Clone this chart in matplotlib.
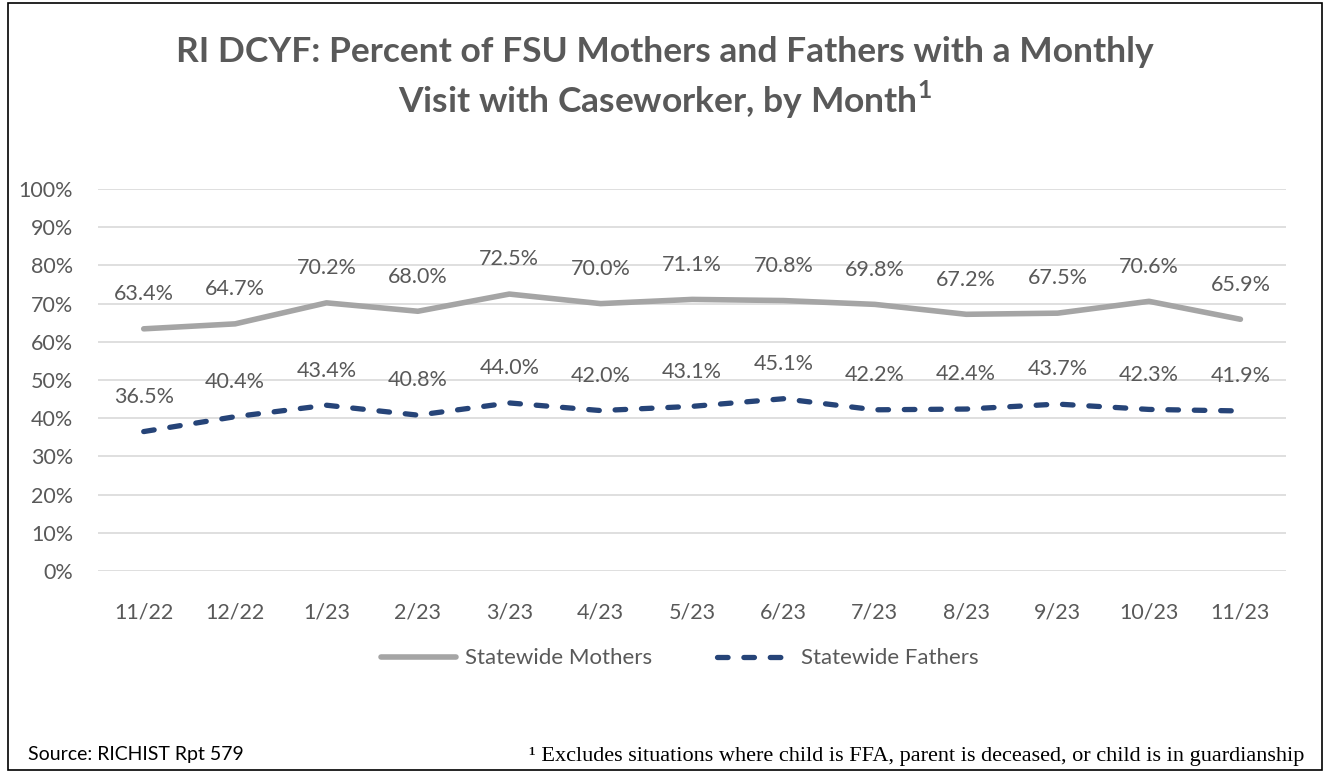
import matplotlib.pyplot as plt
from matplotlib.patches import Rectangle

months = ["11/22", "12/22", "1/23", "2/23", "3/23", "4/23", "5/23",
          "6/23", "7/23", "8/23", "9/23", "10/23", "11/23"]
mothers = [63.4, 64.7, 70.2, 68.0, 72.5, 70.0, 71.1, 70.8, 69.8, 67.2, 67.5, 70.6, 65.9]
fathers = [36.5, 40.4, 43.4, 40.8, 44.0, 42.0, 43.1, 45.1, 42.2, 42.4, 43.7, 42.3, 41.9]
yticks = list(range(0, 101, 10))

txt = "#595959"
gray = "#A5A5A5"
navy = "#264478"
plt.rcParams['font.family'] = ['Lato', 'DejaVu Sans']
plt.rcParams['mathtext.fontset'] = 'custom'
plt.rcParams['mathtext.bf'] = 'Lato:bold'
plt.rcParams['mathtext.rm'] = 'Lato'

fig = plt.figure(figsize=(13.3, 7.82), dpi=100)
ax = fig.add_axes([0.0737, 0.2698, 0.8933, 0.4885])

x = list(range(len(months)))
ax.plot(x, mothers, color=gray, lw=4.0, solid_capstyle='round', label="Statewide Mothers")
ax.plot(x, fathers, color=navy, lw=3.8, ls=(0, (2, 3)), dash_capstyle='round',
        label="Statewide Fathers")

for xi, v in zip(x, mothers):
    ax.annotate(f"{v:.1f}%", (xi, v), xytext=(0, 25), textcoords='offset points',
                ha='center', va='center', fontsize=15.5, color=txt)
for xi, v in zip(x, fathers):
    ax.annotate(f"{v:.1f}%", (xi, v), xytext=(0, 25), textcoords='offset points',
                ha='center', va='center', fontsize=15.5, color=txt)

ax.set_xlim(-0.5, len(months) - 0.5)
ax.set_ylim(0, 100)
ax.set_yticks(yticks)
ax.set_yticklabels([f"{t}%" for t in yticks])
ax.set_xticks(x)
ax.set_xticklabels(months)
ax.tick_params(axis='both', length=0, labelsize=15.5, labelcolor=txt)
ax.tick_params(axis='x', pad=23)
ax.tick_params(axis='y', pad=18)
ax.grid(axis='y', color='#D9D9D9', lw=1.2)
ax.set_axisbelow(True)
for s in ax.spines.values():
    s.set_visible(False)

# legend under the plot, no frame
leg = fig.legend(loc='center', bbox_to_anchor=(0.511, 0.158), ncol=2, frameon=False,
                 fontsize=16, handlelength=3.4, columnspacing=2.9, handletextpad=0.4)
for t in leg.get_texts():
    t.set_color(txt)

fig.text(0.5, 0.933, "RI DCYF: Percent of FSU Mothers and Fathers with a Monthly",
         ha='center', va='center', fontsize=25.5, fontweight='bold', color=txt)
fig.text(0.5, 0.872, r"Visit with Caseworker, by Month$^\mathbf{1}$",
         ha='center', va='center', fontsize=25.5, fontweight='bold', color=txt)

fig.text(0.021, 0.035, "Source: RICHIST Rpt 579", ha='left', va='center',
         fontsize=14, color='black')
fig.text(0.981, 0.033, "¹ Excludes situations where child is FFA, parent is deceased, or child is in guardianship",
         ha='right', va='center', fontsize=16, color='black', family='Liberation Serif')

fig.patches.append(Rectangle((0.006, 0.015), 0.988, 0.981, transform=fig.transFigure,
                             fill=False, edgecolor='black', lw=1.2))

fig.savefig("out.png", dpi=100)
